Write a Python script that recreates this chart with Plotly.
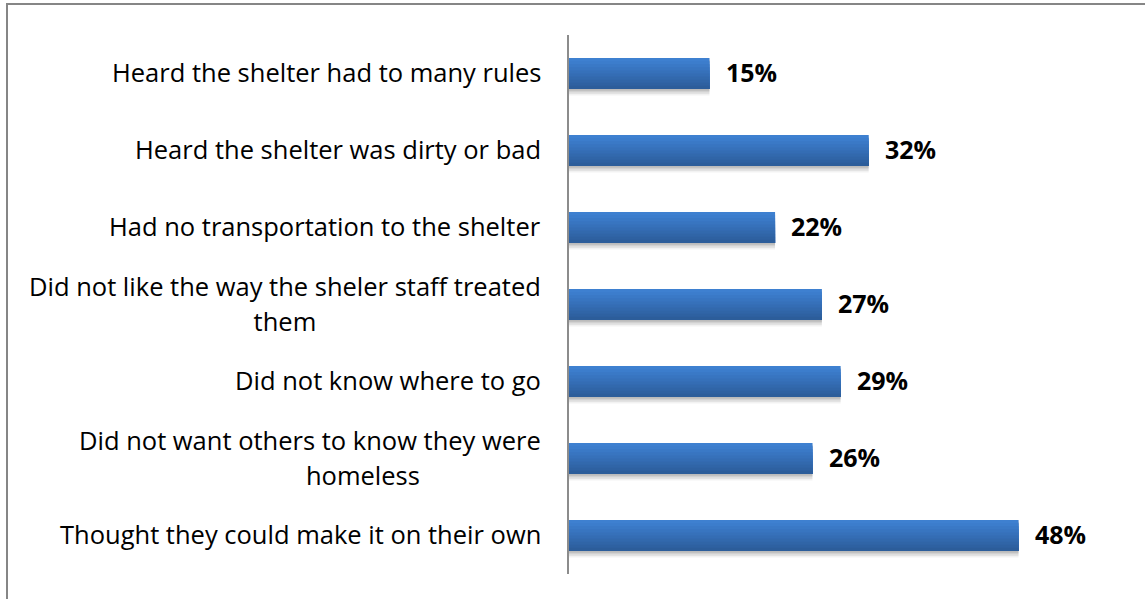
import plotly.graph_objects as go

# Survey responses: reasons for not using a shelter (share of respondents, %)
categories = [
    "Heard the shelter had to many rules",
    "Heard the shelter was dirty or bad",
    "Had no transportation to the shelter",
    "Did not like the way the sheler staff treated<br>them",
    "Did not know where to go",
    "Did not want others to know they were<br>" + "&nbsp;" * 16 + "homeless",
    "Thought they could make it on their own",
]
values = [15, 32, 22, 27, 29, 26, 48]
value_labels = [f"{v}%" for v in values]

W, H = 1145, 599
M_L, M_R, M_T, M_B = 569, 14, 35, 25
X_MAX = 60

BAR_W = 0.4
# vertical gradient of the bar fill, top to bottom
grad = ["#3e80d0", "#3c7dcc", "#3a79c6", "#3875c0", "#3671ba",
        "#346db4", "#3269ad", "#3065a7", "#2e61a1", "#2c5d9a"]
# soft drop shadow under each bar (outermost first)
shadow = ["rgba(0,0,0,0.05)", "rgba(0,0,0,0.06)", "rgba(0,0,0,0.08)", "rgba(0,0,0,0.10)"]

fig = go.Figure()

top = -BAR_W / 2
# shadow layers: each one reaches a bit further below the bar
for i, c in enumerate(shadow):
    ext = 0.085 - i * 0.02
    fig.add_trace(go.Bar(
        x=values, y=categories, orientation="h",
        offset=top + 0.02, width=BAR_W - 0.02 + ext,
        marker=dict(color=c, line=dict(width=0)),
        hoverinfo="skip", showlegend=False,
    ))
# gradient: nested bands, each covering from its start down to the bar bottom
n = len(grad)
step = BAR_W / n
for i, c in enumerate(grad):
    fig.add_trace(go.Bar(
        x=values, y=categories, orientation="h",
        offset=top + i * step, width=BAR_W - i * step,
        marker=dict(color=c, line=dict(width=0)),
        hoverinfo="skip", showlegend=False,
    ))

FONT = "'Open Sans', sans-serif"
LABEL_SIZE = 25.5
VALUE_SIZE = 25
LINE_GAP = 35  # px between wrapped label lines

annotations = []
for cat in categories:
    lines = cat.split("<br>")
    text = "<br>".join(f"<span style='font-size:{LABEL_SIZE}px'>{ln}</span>" for ln in lines)
    annotations.append(dict(
        x=0, xref="paper", xshift=-26, xanchor="right", align="center",
        y=cat, yref="y", yanchor="middle", yshift=2 if len(lines) == 1 else 1,
        text=text, showarrow=False,
        font=dict(family=FONT, size=LINE_GAP / 1.3 if len(lines) > 1 else LABEL_SIZE,
                  color="#000000"),
    ))
for cat, v, lab in zip(categories, values, value_labels):
    annotations.append(dict(
        x=v, xref="x", xshift=14, xanchor="left",
        y=cat, yref="y", yanchor="middle", yshift=2, text=f"<b>{lab}</b>", showarrow=False,
        font=dict(family=FONT, size=VALUE_SIZE, color="#000000"),
    ))

pw = W - M_L - M_R
ph = H - M_T - M_B


def px_x(p):
    return (p - M_L) / pw


def px_y(p):
    return (H - M_B - p) / ph


fig.update_layout(
    width=W, height=H,
    margin=dict(l=M_L, r=M_R, t=M_T, b=M_B),
    paper_bgcolor="white", plot_bgcolor="white",
    barmode="overlay",
    xaxis=dict(range=[0, X_MAX], visible=False, fixedrange=True),
    yaxis=dict(
        categoryorder="array", categoryarray=categories, autorange="reversed",
        showticklabels=False, showgrid=False, zeroline=False,
        showline=True, linecolor="#8c8c8c", linewidth=2, ticks="",
    ),
    annotations=annotations,
    shapes=[dict(
        type="rect", xref="paper", yref="paper",
        x0=px_x(7), x1=px_x(W + 20), y0=px_y(H + 20), y1=px_y(4),
        line=dict(color="#868686", width=2), fillcolor="rgba(0,0,0,0)",
    )],
)

fig.write_html("out.html")
